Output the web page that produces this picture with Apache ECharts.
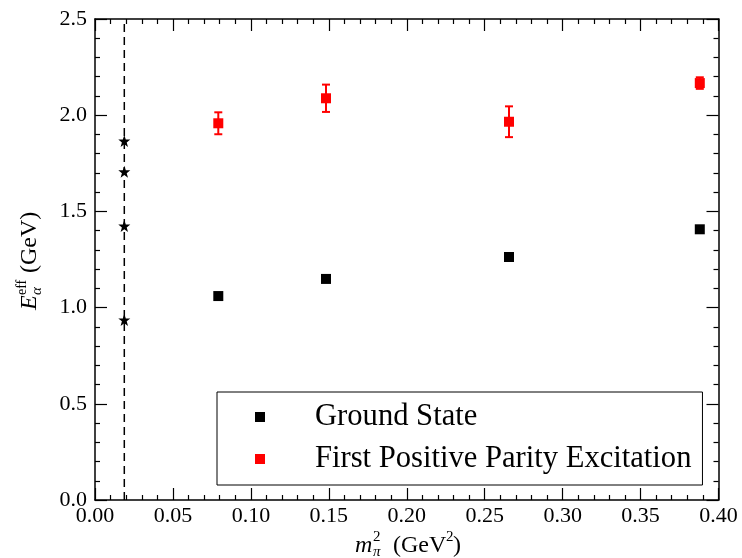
<!DOCTYPE html>
<html>
<head>
<meta charset="utf-8">
<script src="https://cdn.jsdelivr.net/npm/echarts@6/dist/echarts.min.js"></script>
<style>
html,body{margin:0;padding:0;background:#fff;}
#c{width:742px;height:558px;}
</style>
</head>
<body>
<div id="c"></div>
<script>
// ---- data ----
const xMass = [0.0791, 0.1482, 0.2656, 0.3880];          // m_pi^2 (GeV^2)
const yGround = [1.060, 1.149, 1.263, 1.407];           // Ground State (GeV)
const yExcited = [1.958, 2.088, 1.966, 2.167];          // First Positive Parity Excitation (GeV)
const errExcited = [0.057, 0.071, 0.080, 0.030];        // error bars
const xPhys = 0.0188;                                   // physical point (dashed line)
const yPhys = [0.936, 1.424, 1.706, 1.866];             // star points
const xTicks = [0, 0.05, 0.10, 0.15, 0.20, 0.25, 0.30, 0.35, 0.40];
const yTicks = [0, 0.5, 1.0, 1.5, 2.0, 2.5];
const legendNames = ['Ground State', 'First Positive Parity Excitation'];

const FONT = 'Liberation Serif';
const chart = echarts.init(document.getElementById('c'), null, {renderer: 'canvas'});

const groundData = xMass.map((x, i) => [x, yGround[i]]);
const excitedData = xMass.map((x, i) => [x, yExcited[i]]);
const errData = xMass.map((x, i) => [x, yExcited[i], errExcited[i]]);
const starData = yPhys.map(y => [xPhys, y]);
const dashData = [[xPhys, yTicks[0]], [xPhys, yTicks[yTicks.length - 1]]];

const starPath = 'path://M0,-10L2.35,-3.24L9.51,-3.09L3.8,1.24L5.88,8.09L0,4L-5.88,8.09L-3.8,1.24L-9.51,-3.09L-2.35,-3.24Z';

function axisCommon(showLabel, isX) {
  return {
    type: 'value',
    min: isX ? xTicks[0] : yTicks[0],
    max: isX ? xTicks[xTicks.length - 1] : yTicks[yTicks.length - 1],
    interval: isX ? 0.05 : 0.5,
    axisLine: {show: true, onZero: false, lineStyle: {color: '#000', width: 1.5}},
    axisTick: {show: true, inside: true, length: 12, lineStyle: {color: '#000', width: 1.2}},
    minorTick: {show: true, splitNumber: 5, length: 5, lineStyle: {color: '#000', width: 1.2}},
    splitLine: {show: false},
    minorSplitLine: {show: false},
    axisLabel: showLabel ? {
      show: true,
      color: '#000',
      fontFamily: FONT,
      fontSize: 22,
      margin: isX ? 5 : 8,
      padding: isX ? 0 : [0, 0, 14, 0],
      formatter: v => isX ? v.toFixed(2) : v.toFixed(1)
    } : {show: false}
  };
}

const xa0 = axisCommon(true, true);  xa0.position = 'bottom';
const xa1 = axisCommon(false, true); xa1.position = 'top';
const ya0 = axisCommon(true, false); ya0.position = 'left';
const ya1 = axisCommon(false, false); ya1.position = 'right';

function txt(text, x, y, size, italic, align) {
  return {
    type: 'text', x: x, y: y,
    style: {
      text: text,
      font: (italic ? 'italic ' : '') + size + 'px "' + FONT + '"',
      fill: '#000',
      align: align || 'left',
      verticalAlign: 'middle'
    }
  };
}

const option = {
  animation: false,
  backgroundColor: '#fff',
  grid: {left: 95, right: 23.5, top: 19, bottom: 58, containLabel: false},
  xAxis: [xa0, xa1],
  yAxis: [ya0, ya1],
  legend: {
    data: legendNames,
    orient: 'vertical',
    left: 217,
    top: 392,
    padding: [7, 11, 8, 38],
    itemGap: 6,
    itemWidth: 10,
    itemHeight: 10,
    icon: 'rect',
    backgroundColor: '#fff',
    borderColor: '#000',
    borderWidth: 1,
    borderRadius: 0,
    selectedMode: false,
    textStyle: {
      fontFamily: FONT,
      fontSize: 30.6,
      color: '#000',
      lineHeight: 36,
      padding: [0, 0, 0, 45]
    }
  },
  graphic: [
    {
      type: 'group', x: 30, y: 310, rotation: Math.PI / 2,
      children: [
        txt('E', 0, 0, 24, true),
        txt('eff', 15, -8, 14, false),
        txt('α', 15, 7, 15, true),
        txt('(GeV)', 37, 0, 24, false)
      ]
    },
    {
      type: 'group', x: 355, y: 546,
      children: [
        txt('m', 0, 0, 24, true),
        txt('2', 18, -9, 15, false),
        txt('π', 18, 6, 15, true),
        txt('(GeV', 38, 0, 24, false),
        txt('2', 91, -9, 15, false),
        txt(')', 98, 0, 24, false)
      ]
    }
  ],
  series: [
    {
      name: 'dashed', type: 'line', data: dashData, symbol: 'none', silent: true,
      lineStyle: {color: '#000', width: 1.5, type: [8, 5]}, z: 1
    },
    {
      name: 'stars', type: 'scatter', data: starData, symbol: starPath, symbolSize: 12,
      itemStyle: {color: '#000', opacity: 1}, z: 3
    },
    {
      name: 'errors', type: 'custom', data: errData, z: 2,
      renderItem: function (params, api) {
        const x = api.value(0), y = api.value(1), e = api.value(2);
        const top = api.coord([x, y + e]);
        const bot = api.coord([x, y - e]);
        const cap = 4;
        const st = {stroke: '#f00', lineWidth: 2};
        return {
          type: 'group',
          children: [
            {type: 'line', shape: {x1: top[0], y1: top[1], x2: bot[0], y2: bot[1]}, style: st},
            {type: 'line', shape: {x1: top[0] - cap, y1: top[1], x2: top[0] + cap, y2: top[1]}, style: st},
            {type: 'line', shape: {x1: bot[0] - cap, y1: bot[1], x2: bot[0] + cap, y2: bot[1]}, style: st}
          ]
        };
      }
    },
    {
      name: legendNames[0], type: 'scatter', data: groundData, symbol: 'rect', symbolSize: 10,
      itemStyle: {color: '#000', opacity: 1}, z: 4
    },
    {
      name: legendNames[1], type: 'scatter', data: excitedData, symbol: 'rect', symbolSize: 10,
      itemStyle: {color: '#f00', opacity: 1}, z: 4
    }
  ]
};
chart.setOption(option);
</script>
</body>
</html>
